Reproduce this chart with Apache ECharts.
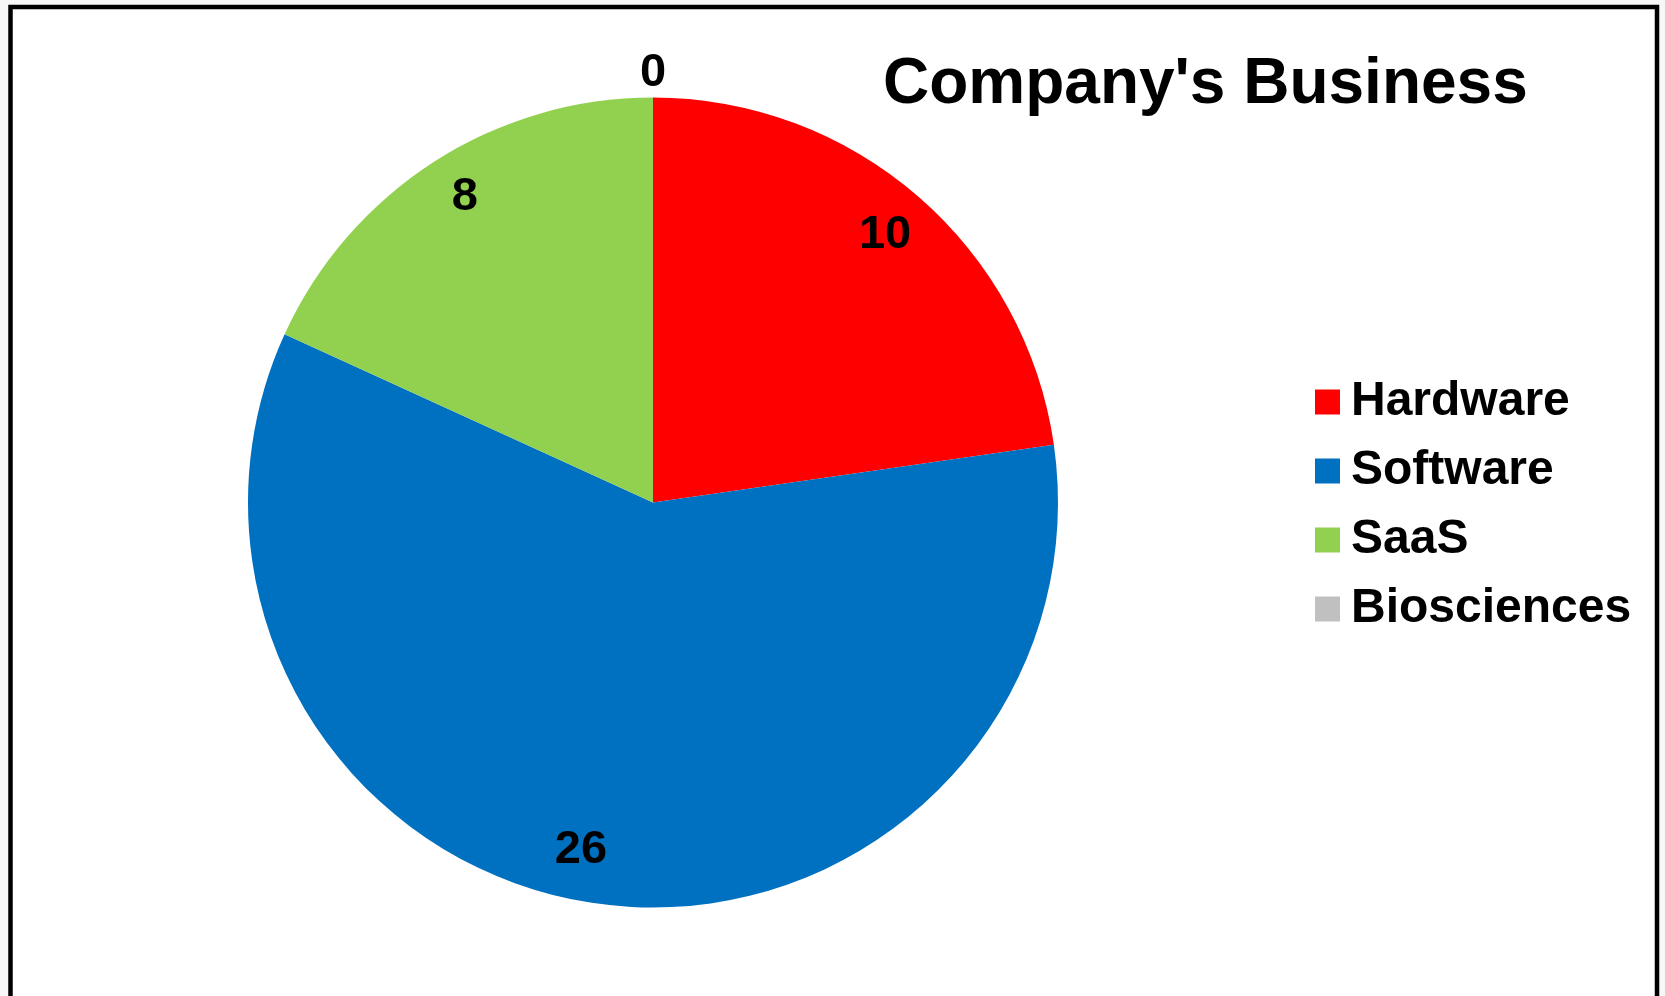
<!DOCTYPE html>
<html>
<head>
<meta charset="utf-8">
<title>Company's Business</title>
<script src="https://cdn.jsdelivr.net/npm/echarts@6/dist/echarts.min.js"></script>
<style>
  html, body { margin: 0; padding: 0; background: #f7f7f7; }
  #chart { width: 1665px; height: 996px; }
</style>
</head>
<body>
<div id="chart"></div>
<script>
// Business segments and how many companies fall in each
const categories = ['Hardware', 'Software', 'SaaS', 'Biosciences'];
const counts = [10, 26, 8, 0];
const colors = ['#FF0000', '#0070C0', '#92D050', '#C0C0C0'];

const FONT = '"Liberation Sans", Arial, sans-serif';
const CENTER = [653, 502.5];
const R = 405;

// Small per-label nudges (text padding [top, right, bottom, left]) so the
// rim labels sit snugly inside their slices
const labelPadding = {
  Hardware: [8.5, 6, 0, 0],
  Software: [0, 42, 15, 0],
  SaaS: [0, 0, 6.5, 12],
  Biosciences: [6.5, 0, 0, 0]
};

const valueText = {
  color: '#000',
  fontFamily: FONT,
  fontWeight: 'bold',
  fontSize: 47
};

// Solid slices, no labels of their own
const slices = categories.map((name, i) => ({
  name, value: counts[i], itemStyle: { color: colors[i] }
}));

function labelFor(name, visible) {
  return {
    show: visible,
    formatter: '{v|{c}}',
    rich: { v: Object.assign({ padding: labelPadding[name] }, valueText) }
  };
}

// Invisible ring carrying the value labels of the non-empty slices near the rim
const rimLabels = categories.map((name, i) => ({
  name, value: counts[i], label: labelFor(name, counts[i] !== 0)
}));

// Invisible ring just outside the pie for empty slices
const outerLabels = categories.map((name, i) => ({
  name, value: counts[i], label: labelFor(name, counts[i] === 0)
}));

const ghost = {
  type: 'pie',
  center: CENTER,
  startAngle: 90,
  clockwise: true,
  silent: true,
  animation: false,
  itemStyle: { color: 'rgba(0,0,0,0)', borderWidth: 0 },
  emphasis: { disabled: true },
  labelLine: { show: false },
  label: Object.assign({ position: 'inside' }, valueText)
};

const chart = echarts.init(document.getElementById('chart'), null, { renderer: 'canvas' });
chart.setOption({
  backgroundColor: '#f7f7f7',
  animation: false,
  graphic: [{
    type: 'rect',
    z: -10,
    silent: true,
    shape: { x: 10.5, y: 7, width: 1646.5, height: 1100 },
    style: { fill: '#ffffff', stroke: '#000000', lineWidth: 4.5 }
  }],
  title: {
    text: "Company's Business",
    left: 883,
    top: 53,
    padding: 0,
    textStyle: {
      color: '#000',
      fontFamily: FONT,
      fontWeight: 'bold',
      fontSize: 64,
      lineHeight: 64
    }
  },
  legend: {
    orient: 'vertical',
    left: 1315,
    top: 378,
    padding: 0,
    itemWidth: 25,
    itemHeight: 25,
    itemGap: 21,
    icon: 'rect',
    selectedMode: false,
    data: categories,
    textStyle: {
      color: '#000',
      fontFamily: FONT,
      fontWeight: 'bold',
      fontSize: 48,
      lineHeight: 48,
      padding: [0, 0, 0, 6]
    }
  },
  series: [
    {
      type: 'pie',
      name: 'Company',
      center: CENTER,
      radius: [0, R],
      startAngle: 90,
      clockwise: true,
      animation: false,
      itemStyle: { borderWidth: 0 },
      emphasis: { disabled: true },
      label: { show: false },
      labelLine: { show: false },
      data: slices
    },
    Object.assign({}, ghost, { radius: [306, 406], data: rimLabels }),
    Object.assign({}, ghost, { radius: [405, 455], data: outerLabels })
  ]
});
</script>
</body>
</html>
